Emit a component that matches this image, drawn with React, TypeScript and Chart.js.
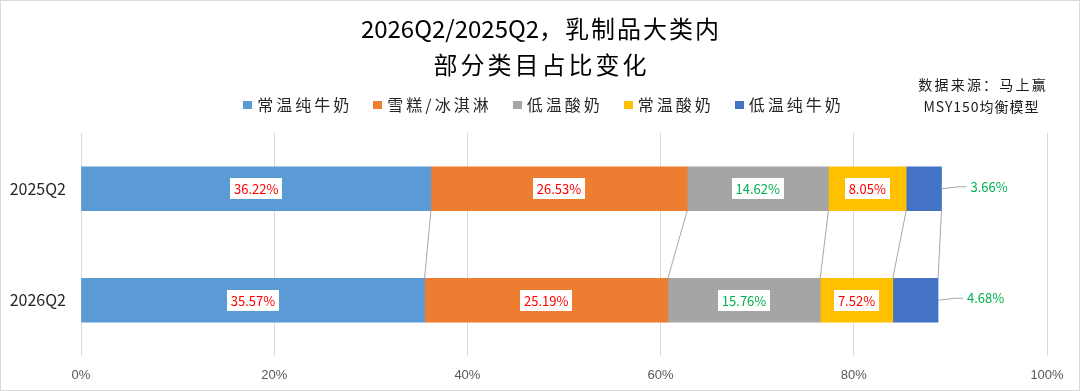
import { useEffect, useRef } from 'react';
import { Chart, registerables } from 'chart.js';

Chart.register(...registerables);

const categories = ['2025Q2', '2026Q2'];
const seriesNames = ['常温纯牛奶', '雪糕/冰淇淋', '低温酸奶', '常温酸奶', '低温纯牛奶'];
const values2025 = [36.22, 26.53, 14.62, 8.05, 3.66];
const values2026 = [35.57, 25.19, 15.76, 7.52, 4.68];
const seriesColors = ['#5B9BD5', '#ED7D31', '#A5A5A5', '#FFC000', '#4472C4'];
const labelColors = ['#FF0000', '#FF0000', '#00B050', '#FF0000', '#00B050'];
const xTicks = [0, 20, 40, 60, 80, 100];
const titleLine1 = ['2026Q2/2025Q2', '，乳制品大类内'];
const titleLine2 = '部分类目占比变化';
const sourceLines = ['数据来源：马上赢', 'MSY150均衡模型'];

const CJK = '"Noto Sans CJK SC", "Noto Sans", sans-serif';

function spacedWidth(ctx: CanvasRenderingContext2D, text: string, spacing: number) {
  (ctx as any).letterSpacing = spacing + 'px';
  const w = ctx.measureText(text).width - spacing;
  (ctx as any).letterSpacing = '0px';
  return w;
}

function drawSegments(
  ctx: CanvasRenderingContext2D,
  segs: { text: string; spacing: number }[],
  cx: number,
  y: number
) {
  const widths = segs.map((s) => spacedWidth(ctx, s.text, s.spacing) + s.spacing);
  const total = widths.reduce((a, b) => a + b, 0) - segs[segs.length - 1].spacing;
  let x = cx - total / 2;
  ctx.textAlign = 'left';
  segs.forEach((s, i) => {
    (ctx as any).letterSpacing = s.spacing + 'px';
    ctx.fillText(s.text, x, y);
    x += widths[i];
  });
  (ctx as any).letterSpacing = '0px';
}

const decorPlugin = {
  id: 'decor',
  afterDatasetsDraw(chart: any) {
    const ctx: CanvasRenderingContext2D = chart.ctx;
    const metas = seriesNames.map((_, i) => chart.getDatasetMeta(i));
    ctx.save();
    // series lines
    ctx.strokeStyle = '#A6A6A6';
    ctx.lineWidth = 1;
    for (let k = 0; k < seriesNames.length; k++) {
      const a = metas[k].data[0].getProps(['x', 'y', 'height'], true);
      const b = metas[k].data[1].getProps(['x', 'y', 'height'], true);
      ctx.beginPath();
      ctx.moveTo(a.x, a.y + a.height / 2);
      ctx.lineTo(b.x, b.y - b.height / 2);
      ctx.stroke();
    }
    // data labels
    ctx.font = '13px ' + CJK;
    ctx.textBaseline = 'middle';
    const last = seriesNames.length - 1;
    for (let k = 0; k < seriesNames.length; k++) {
      const ds = chart.data.datasets[k];
      for (let j = 0; j < categories.length; j++) {
        const el = metas[k].data[j].getProps(['x', 'y', 'base', 'height'], true);
        const text = Number(ds.data[j]).toFixed(2) + '%';
        const tw = ctx.measureText(text).width;
        if (k === last) {
          ctx.strokeStyle = '#A6A6A6';
          ctx.beginPath();
          ctx.moveTo(el.x, el.y);
          ctx.lineTo(el.x + 17, el.y - 2);
          ctx.lineTo(el.x + 25, el.y - 2);
          ctx.stroke();
          ctx.fillStyle = labelColors[k];
          ctx.textAlign = 'left';
          ctx.fillText(text, el.x + 29, el.y - 2);
        } else {
          const cx = (el.x + el.base) / 2;
          const bw = tw + 8;
          const bh = 21;
          ctx.fillStyle = '#FFFFFF';
          ctx.fillRect(Math.round(cx - bw / 2), Math.round(el.y - bh / 2), Math.round(bw), bh);
          ctx.fillStyle = labelColors[k];
          ctx.textAlign = 'center';
          ctx.fillText(text, cx, el.y + 0.5);
        }
      }
    }
    ctx.restore();
  },
  afterDraw(chart: any) {
    const ctx: CanvasRenderingContext2D = chart.ctx;
    const W = chart.width;
    const H = chart.height;
    ctx.save();
    ctx.textBaseline = 'middle';
    // title
    ctx.fillStyle = '#000000';
    ctx.font = '24px ' + CJK;
    drawSegments(ctx, [{ text: titleLine1[0], spacing: 0 }, { text: titleLine1[1], spacing: 2 }], 540, 29);
    drawSegments(ctx, [{ text: titleLine2, spacing: 3 }], 540, 65);
    // legend
    ctx.font = '16px ' + CJK;
    const spacing = 3;
    const marker = 8;
    const gapText = 14;
    const gapItem = 24;
    const tws = seriesNames.map((n) => spacedWidth(ctx, n, spacing));
    const total =
      tws.reduce((a, b) => a + b + gapText, 0) + gapItem * (seriesNames.length - 1);
    let x = 542 - total / 2;
    const ly = 105;
    seriesNames.forEach((n, i) => {
      ctx.fillStyle = seriesColors[i];
      ctx.fillRect(Math.round(x), ly - marker / 2, marker + 1, marker);
      ctx.fillStyle = '#262626';
      (ctx as any).letterSpacing = spacing + 'px';
      ctx.textAlign = 'left';
      ctx.fillText(n, x + gapText, ly);
      (ctx as any).letterSpacing = '0px';
      x += gapText + tws[i] + gapItem;
    });
    // source
    ctx.fillStyle = '#1A1A1A';
    ctx.font = '14px ' + CJK;
    drawSegments(ctx, [{ text: sourceLines[0], spacing: 2.2 }], 982, 85);
    drawSegments(ctx, [{ text: sourceLines[1], spacing: 1 }], 981, 107);
    // border
    ctx.strokeStyle = '#D9D9D9';
    ctx.lineWidth = 1;
    ctx.strokeRect(0.5, 0.5, W - 1, H - 1);
    ctx.restore();
  },
};

export default function App() {
  const ref = useRef<HTMLCanvasElement>(null);
  useEffect(() => {
    if (!ref.current) return;
    const chart = new Chart(ref.current, {
      type: 'bar',
      data: {
        labels: categories,
        datasets: seriesNames.map((name, i) => ({
          label: name,
          data: [values2025[i], values2026[i]],
          backgroundColor: seriesColors[i],
          borderWidth: 0,
          barThickness: 44,
        })),
      },
      options: {
        indexAxis: 'y',
        responsive: false,
        animation: false,
        layout: { padding: { top: 133, right: 33, left: 0, bottom: 0 } },
        scales: {
          x: {
            stacked: true,
            min: 0,
            max: 100,
            afterFit: (s: any) => {
              s.height = 35;
            },
            afterBuildTicks: (s: any) => {
              s.ticks = xTicks.map((v) => ({ value: v }));
            },
            grid: { color: '#D9D9D9', drawTicks: false, lineWidth: 1 },
            border: { display: false },
            ticks: {
              padding: 12,
              color: '#595959',
              font: { family: '"Liberation Sans", Arial, sans-serif', size: 13 },
              callback: (v: any) => v + '%',
            },
          },
          y: {
            stacked: true,
            afterFit: (s: any) => {
              s.width = 81;
            },
            grid: { display: false, drawTicks: false },
            border: { display: false },
            ticks: {
              padding: 15,
              color: '#262626',
              font: { family: '"Noto Sans CJK SC", sans-serif', size: 16 },
            },
          },
        },
        plugins: {
          legend: { display: false },
          tooltip: { enabled: false },
          title: { display: false },
        },
      },
      plugins: [decorPlugin],
    });
    return () => chart.destroy();
  }, []);
  return (
    <div style={{ position: 'fixed', left: 0, top: 0, width: 1080, height: 391, background: '#fff' }}>
      <canvas ref={ref} width={1080} height={391} style={{ display: 'block' }} />
    </div>
  );
}
